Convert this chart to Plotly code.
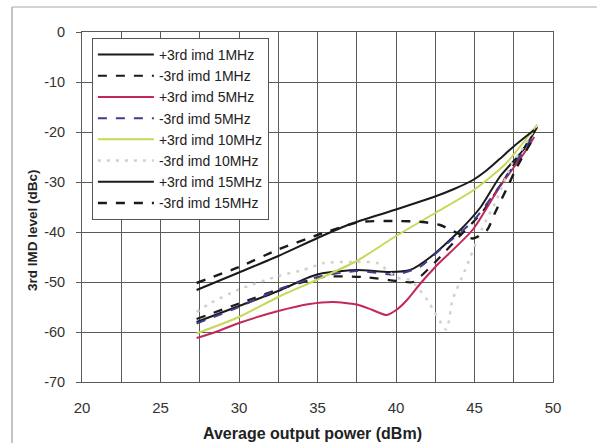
import plotly.graph_objects as go

# ---- data ----
x_p1 = [27.3, 30.0, 32.5, 34.5, 35.4, 37.5, 39.6, 40.9, 42.2, 43.9, 45.4, 46.6, 48.1, 49.0]
y_p1 = [-58.0, -54.8, -51.8, -49.0, -48.2, -47.6, -48.0, -47.6, -45.0, -40.2, -35.0, -29.0, -23.6, -19.0]

x_m1 = [27.3, 30.0, 32.5, 35.4, 37.9, 40.1, 41.1, 42.5, 44.0, 45.5, 47.0, 48.6]
y_m1 = [-57.4, -54.3, -51.5, -49.0, -49.0, -49.8, -50.0, -46.0, -41.0, -36.0, -29.0, -21.0]

x_p5 = [27.3, 28.5, 30.0, 32.5, 34.5, 36.0, 37.5, 38.5, 39.4, 40.1, 40.7, 41.5, 42.5, 44.9, 46.6, 48.3, 48.8]
y_p5 = [-61.2, -60.0, -58.2, -55.8, -54.4, -54.0, -54.5, -55.6, -56.6, -55.4, -53.6, -50.5, -47.0, -39.5, -31.0, -23.6, -21.0]

x_m5 = [27.3, 30.0, 32.5, 35.0, 37.5, 40.0, 41.5, 43.0, 45.0, 47.0, 48.7]
y_m5 = [-58.3, -55.0, -51.5, -49.0, -47.8, -48.5, -47.0, -43.0, -37.5, -29.0, -21.0]

x_p10 = [27.3, 30.0, 32.5, 35.0, 37.5, 40.0, 42.5, 45.0, 47.0, 49.0]
y_p10 = [-60.3, -57.0, -53.0, -49.5, -45.8, -40.8, -36.2, -31.5, -26.3, -18.5]

x_m10 = [27.3, 28.2, 30.0, 32.5, 34.1, 35.4, 37.5, 38.8, 40.1, 40.9, 42.0, 43.2, 43.6, 44.4, 45.5, 46.4, 47.4, 48.0, 49.1]
y_m10 = [-56.0, -54.2, -51.5, -48.8, -47.6, -46.2, -46.0, -46.2, -49.2, -49.6, -53.6, -59.5, -53.6, -47.6, -39.2, -33.6, -26.2, -23.6, -18.0]

x_p15 = [27.3, 30.0, 32.5, 35.0, 37.1, 39.9, 42.4, 43.7, 44.9, 45.8, 46.6, 47.6, 48.8]
y_p15 = [-51.6, -48.1, -44.8, -41.2, -38.4, -35.6, -33.0, -31.4, -29.6, -27.6, -25.4, -22.6, -19.6]

x_m15 = [27.3, 30.0, 32.5, 35.0, 37.7, 40.0, 41.7, 42.8, 43.9, 44.9, 45.8, 46.3, 47.1, 47.7, 48.5, 48.8]
y_m15 = [-50.2, -47.0, -43.5, -40.6, -38.0, -37.8, -38.0, -38.6, -40.2, -41.3, -39.6, -36.2, -31.0, -27.0, -22.6, -21.0]

names = ["+3rd imd 1MHz", "-3rd imd 1MHz", "+3rd imd 5MHz", "-3rd imd 5MHz",
         "+3rd imd 10MHz", "-3rd imd 10MHz", "+3rd imd 15MHz", "-3rd imd 15MHz"]

x_ticks = [20, 25, 30, 35, 40, 45, 50]
x_ticktext = ["20", "25", "30", "35", "40", "45", "50"]
y_ticks = [0, -10, -20, -30, -40, -50, -60, -70]
y_ticktext = ["0", "-10", "-20", "-30", "-40", "-50", "-60", "-70"]

# ---- styles ----
styles = [
    dict(color="#1a1a1a", width=2, dash="solid"),
    dict(color="#1a1a1a", width=2.2, dash="dash"),
    dict(color="#c42858", width=2, dash="solid"),
    dict(color="#3c3c92", width=2, dash="dash"),
    dict(color="#c6d856", width=2, dash="solid"),
    dict(color="#d2d2c4", width=2.5, dash="3px,6px"),
    dict(color="#1a1a1a", width=2, dash="solid"),
    dict(color="#1a1a1a", width=2.4, dash="dash"),
]
series = [(x_p1, y_p1), (x_m1, y_m1), (x_p5, y_p5), (x_m5, y_m5),
          (x_p10, y_p10), (x_m10, y_m10), (x_p15, y_p15), (x_m15, y_m15)]

fig = go.Figure()
for (xs, ys), nm, st in zip(series, names, styles):
    fig.add_trace(go.Scatter(x=xs, y=ys, name=nm, mode="lines",
                             line=dict(color=st["color"], width=st["width"], dash=st["dash"],
                                       shape="spline", smoothing=0.6)))

FONT = "Liberation Sans, Arial, sans-serif"
GRID = "#5a5a5a"

fig.update_layout(
    width=597, height=443,
    margin=dict(l=82, r=44, t=32, b=61),
    paper_bgcolor="white", plot_bgcolor="white",
    font=dict(family=FONT, size=14, color="#222222"),
    showlegend=True,
    legend=dict(x=0.021, y=0.983, xanchor="left", yanchor="top",
                bgcolor="white", bordercolor="#555555", borderwidth=1,
                font=dict(family=FONT, size=14, color="#222222"),
                tracegroupgap=0, itemwidth=56),
    xaxis=dict(range=[20, 50], tickvals=x_ticks, ticktext=x_ticktext,
               showgrid=True, gridcolor=GRID, gridwidth=1,
               minor=dict(dtick=2.5, tick0=20, showgrid=True, gridcolor=GRID, gridwidth=1),
               showline=True, linecolor=GRID, linewidth=1, mirror=True,
               ticks="", ticklabelstandoff=12, zeroline=False,
               tickfont=dict(family=FONT, size=15, color="#333333")),
    yaxis=dict(range=[-70, 0], tickvals=y_ticks, ticktext=y_ticktext,
               showgrid=True, gridcolor=GRID, gridwidth=1,
               showline=True, linecolor=GRID, linewidth=1, mirror=True,
               ticks="outside", ticklen=5, tickcolor=GRID, ticklabelstandoff=8,
               zeroline=False,
               tickfont=dict(family=FONT, size=14.5, color="#333333")),
    annotations=[
        dict(text="<b>Average output power (dBm)</b>", xref="paper", yref="paper",
             x=(312 - 82) / 471, y=-(433 - 382) / 350, xanchor="center", yanchor="middle",
             showarrow=False, font=dict(family=FONT, size=16, color="#222222")),
        dict(text="<b>3rd IMD level (dBc)</b>", xref="paper", yref="paper",
             x=-(82 - 32) / 471, y=(382 - 230) / 350, xanchor="center", yanchor="middle",
             textangle=-90, showarrow=False, font=dict(family=FONT, size=13.5, color="#222222")),
    ],
    shapes=[
        dict(type="line", xref="paper", yref="paper",
             x0=-(82 - 12) / 471, x1=-(82 - 12) / 471, y0=(382 - 7) / 350, y1=-(443 - 382) / 350,
             line=dict(color="#888888", width=1)),
        dict(type="line", xref="paper", yref="paper",
             x0=-(82 - 12) / 471, x1=(597 - 82) / 471, y0=(382 - 7) / 350, y1=(382 - 7) / 350,
             line=dict(color="#aaaaaa", width=1)),
    ],
)

fig.write_html("out.html")
